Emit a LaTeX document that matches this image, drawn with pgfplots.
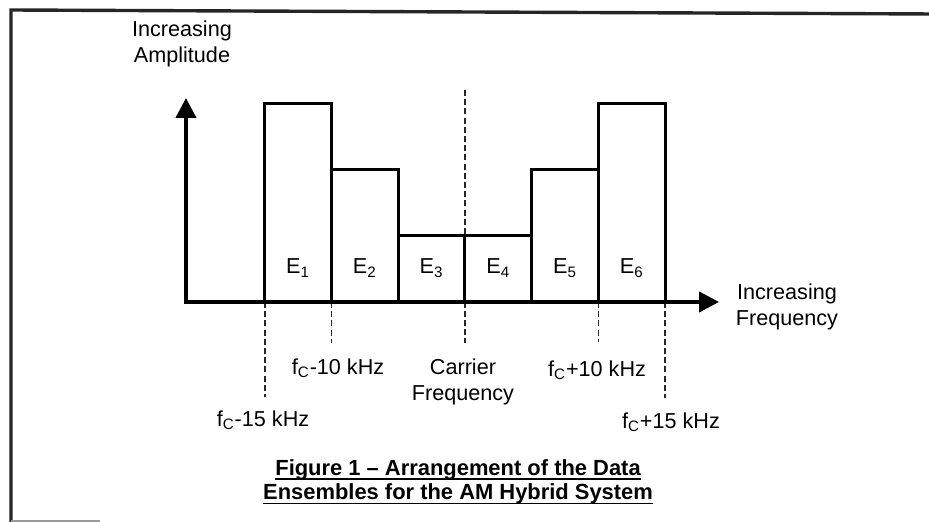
\documentclass[border=0pt]{standalone}
\usepackage{pgfplots}
\pgfplotsset{compat=1.18}
\usepackage{fontspec}
\setmainfont{Liberation Sans}
\usetikzlibrary{arrows.meta}
\newcommand\ul[1]{\setbox0\hbox{#1}\rlap{\rule[-2.4bp]{\wd0}{0.9bp}}\box0}
\begin{document}
\begin{tikzpicture}[font=\fontsize{10.85}{13}\selectfont]
\begin{axis}[
  scale only axis, width=464.5bp, height=261bp,
  xmin=-34.831, xmax=34.757, ymin=-3.318, ymax=4.555,
  axis lines=none, clip=false,
]
% frame
\addplot[line width=1.7bp, black!85, line join=miter] coordinates {(-34.01,-3.318) (-34.01,4.404) (34.757,4.344)};
\addplot[line width=1bp, black!40] coordinates {(-34.01,-3.30) (-27.34,-3.30)};
% dashed guide lines
\addplot[line width=0.85bp, black!85, dash pattern=on 3bp off 1.6bp] coordinates {(-15,0) (-15,-1.433)};
\addplot[line width=0.85bp, black!85, dash pattern=on 3bp off 1.6bp] coordinates {(-10,0) (-10,-0.618)};
\addplot[line width=0.85bp, black!85, dash pattern=on 3bp off 1.6bp] coordinates {(0,3.198) (0,-0.618)};
\addplot[line width=0.85bp, black!85, dash pattern=on 3bp off 1.6bp] coordinates {(10,0) (10,-0.603)};
\addplot[line width=0.85bp, black!85, dash pattern=on 3bp off 1.6bp] coordinates {(15,0) (15,-1.448)};
% ensembles
\addplot[ybar interval, draw=black, fill=white, line width=1.5bp] coordinates {(-15,3) (-10,2) (-5,1) (0,1) (5,2) (10,3) (15,3)};
% axes with arrows
\addplot[line width=2bp, line join=miter, {Triangle[length=10bp,width=10bp]}-{Triangle[length=10bp,width=10bp]}] coordinates {(-20.9,3.077) (-20.9,0) (19.03,0)};
% ensemble labels
\node at (axis cs:-12.5,0.51) {E\textsubscript{1}};
\node at (axis cs:-7.5,0.51) {E\textsubscript{2}};
\node at (axis cs:-2.5,0.51) {E\textsubscript{3}};
\node at (axis cs:2.5,0.51) {E\textsubscript{4}};
\node at (axis cs:7.5,0.51) {E\textsubscript{5}};
\node at (axis cs:12.5,0.51) {E\textsubscript{6}};
% frequency labels
\node at (axis cs:-15.13,-1.78) {f\textsubscript{C}-15 kHz};
\node at (axis cs:-9.51,-0.995) {f\textsubscript{C}-10 kHz};
\node[align=center] at (axis cs:-0.15,-1.207) {Carrier\\Frequency};
\node at (axis cs:9.89,-1.026) {f\textsubscript{C}+10 kHz};
\node at (axis cs:15.43,-1.81) {f\textsubscript{C}+15 kHz};
% axis titles
\node[align=center] at (axis cs:24.12,-0.075) {Increasing\\Frequency};
\node[align=center] at (axis cs:-21.2,3.89) {Increasing\\Amplitude};
% caption
\node[align=center, font=\fontsize{11}{12.2}\selectfont\bfseries] at (axis cs:-0.52,-2.715) {\ul{Figure 1 -- Arrangement of the Data}\\\ul{Ensembles for the AM Hybrid System}};
\end{axis}
\pgfresetboundingbox
\useasboundingbox (current axis.south west) rectangle (current axis.north east);
\end{tikzpicture}
\end{document}
